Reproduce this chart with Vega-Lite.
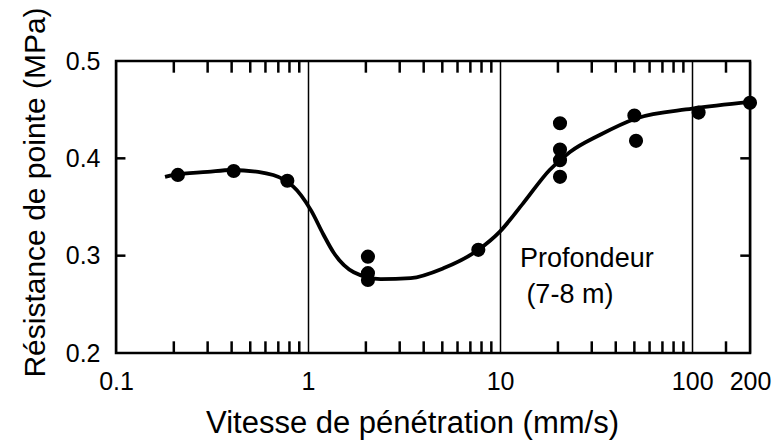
{
  "$schema": "https://vega.github.io/schema/vega-lite/v6.json",
  "autosize": "none",
  "width": 634,
  "height": 292,
  "padding": {"left": 116, "top": 61, "right": 26, "bottom": 90},
  "background": "white",
  "config": {
    "font": "Liberation Sans",
    "view": {"stroke": "black", "strokeWidth": 2.5},
    "axis": {"labelColor": "black", "titleColor": "black", "titleFontWeight": "normal", "labelFont": "Liberation Sans", "titleFont": "Liberation Sans"}
  },
  "datasets": {
    "curve": [
      {"v": 0.18, "r": 0.381}, {"v": 0.2, "r": 0.383}, {"v": 0.3, "r": 0.386}, {"v": 0.4, "r": 0.388},
      {"v": 0.55, "r": 0.386}, {"v": 0.75, "r": 0.378}, {"v": 0.92, "r": 0.362}, {"v": 1.04, "r": 0.346},
      {"v": 1.2, "r": 0.322}, {"v": 1.36, "r": 0.303}, {"v": 1.73, "r": 0.283}, {"v": 2.39, "r": 0.276},
      {"v": 3.42, "r": 0.277}, {"v": 5.06, "r": 0.287}, {"v": 7.7, "r": 0.306}, {"v": 10, "r": 0.325},
      {"v": 13.2, "r": 0.354}, {"v": 18.1, "r": 0.388}, {"v": 23.1, "r": 0.4065}, {"v": 33, "r": 0.424},
      {"v": 51, "r": 0.441}, {"v": 100, "r": 0.451}, {"v": 200, "r": 0.458}
    ],
    "points": [
      {"v": 0.21, "r": 0.383}, {"v": 0.41, "r": 0.387}, {"v": 0.78, "r": 0.377},
      {"v": 2.05, "r": 0.299}, {"v": 2.05, "r": 0.282}, {"v": 2.05, "r": 0.275},
      {"v": 7.7, "r": 0.306},
      {"v": 20.5, "r": 0.436}, {"v": 20.5, "r": 0.409}, {"v": 20.5, "r": 0.398}, {"v": 20.5, "r": 0.381},
      {"v": 50, "r": 0.444}, {"v": 51, "r": 0.418},
      {"v": 108, "r": 0.447}, {"v": 200, "r": 0.457}
    ],
    "minorx": [
      {"v": 0.2}, {"v": 0.3}, {"v": 0.4}, {"v": 0.5}, {"v": 0.6}, {"v": 0.7}, {"v": 0.8}, {"v": 0.9},
      {"v": 2}, {"v": 3}, {"v": 4}, {"v": 5}, {"v": 6}, {"v": 7}, {"v": 8}, {"v": 9},
      {"v": 20}, {"v": 30}, {"v": 40}, {"v": 50}, {"v": 60}, {"v": 70}, {"v": 80}, {"v": 90}, {"v": 150}
    ],
    "minory": [{"r": 0.3}, {"r": 0.4}],
    "notes": [
      {"t": "Profondeur", "v": 12.7, "r": 0.288},
      {"t": "(7-8 m)", "v": 13.7, "r": 0.251}
    ]
  },
  "layer": [
    {
      "data": {"name": "curve"},
      "mark": {"type": "line", "color": "black", "strokeWidth": 3.8, "interpolate": "monotone"},
      "encoding": {
        "x": {
          "field": "v", "type": "quantitative",
          "scale": {"type": "log", "domain": [0.1, 200], "nice": false},
          "axis": {
            "values": [0.1, 1, 10, 100, 200],
            "labelExpr": "datum.value == 0.1 ? '0.1' : format(datum.value, 'd')",
            "grid": true, "gridColor": "black", "gridWidth": 1.5, "gridOpacity": 1,
            "ticks": false, "tickSize": 0, "domain": false,
            "labelFontSize": 25, "labelPadding": 16, "labelFlush": false, "labelOverlap": false, "labelBound": false,
            "title": "Vitesse de pénétration (mm/s)",
            "titleFontSize": 31, "titleX": 296, "titleY": 79, "titleBaseline": "alphabetic", "titleAlign": "center", "titleAnchor": null
          }
        },
        "y": {
          "field": "r", "type": "quantitative",
          "scale": {"domain": [0.2, 0.5], "nice": false, "zero": false},
          "axis": {
            "values": [0.2, 0.3, 0.4, 0.5], "format": ".1f",
            "grid": false, "ticks": false, "tickSize": 0, "domain": false,
            "labelFontSize": 25, "labelPadding": 16, "labelOverlap": false, "labelBound": false, "labelFlush": false,
            "title": "Résistance de pointe (MPa)",
            "titleFontSize": 30, "titleAngle": -90, "titleX": -81, "titleY": 131, "titleBaseline": "middle", "titleAlign": "center"
          }
        }
      }
    },
    {
      "data": {"name": "points"},
      "mark": {"type": "point", "shape": "circle", "filled": true, "color": "black", "size": 200, "opacity": 1},
      "encoding": {
        "x": {"field": "v", "type": "quantitative"},
        "y": {"field": "r", "type": "quantitative"}
      }
    },
    {
      "data": {"name": "minorx"},
      "mark": {"type": "rule", "color": "black", "strokeWidth": 2.5},
      "encoding": {
        "x": {"field": "v", "type": "quantitative"},
        "y": {"datum": 0.2, "type": "quantitative"},
        "y2": {"datum": 0.212}
      }
    },
    {
      "data": {"name": "minorx"},
      "mark": {"type": "rule", "color": "black", "strokeWidth": 2.5},
      "encoding": {
        "x": {"field": "v", "type": "quantitative"},
        "y": {"datum": 0.5, "type": "quantitative"},
        "y2": {"datum": 0.488}
      }
    },
    {
      "data": {"name": "minory"},
      "mark": {"type": "rule", "color": "black", "strokeWidth": 2.5},
      "encoding": {
        "y": {"field": "r", "type": "quantitative"},
        "x": {"datum": 0.1, "type": "quantitative"},
        "x2": {"datum": 0.112}
      }
    },
    {
      "data": {"name": "minory"},
      "mark": {"type": "rule", "color": "black", "strokeWidth": 2.5},
      "encoding": {
        "y": {"field": "r", "type": "quantitative"},
        "x": {"datum": 200, "type": "quantitative"},
        "x2": {"datum": 178}
      }
    },
    {
      "data": {"name": "notes"},
      "mark": {"type": "text", "align": "left", "baseline": "alphabetic", "fontSize": 27, "font": "Liberation Sans", "color": "black"},
      "encoding": {
        "x": {"field": "v", "type": "quantitative"},
        "y": {"field": "r", "type": "quantitative"},
        "text": {"field": "t"}
      }
    }
  ]
}
